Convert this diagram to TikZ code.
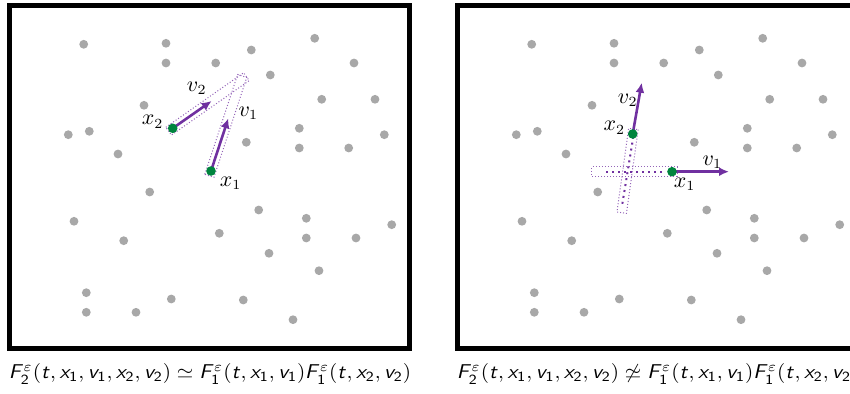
\documentclass[tikz,border=0pt]{standalone}
\usepackage{amsmath,amssymb}
\usetikzlibrary{arrows.meta,calc}
\definecolor{partgray}{RGB}{168,168,168}
\definecolor{partgreen}{RGB}{0,132,62}
\definecolor{velpurple}{RGB}{112,48,160}

\DeclareMathAlphabet{\mathsfit}{OT1}{cmss}{m}{sl}
\newcommand\sF{\mathsfit{F}}
\newcommand\sx[1]{\mathsfit{x}_{\mathsf{#1}}}
\newcommand\sv[1]{\mathsfit{v}_{\mathsf{#1}}}
\newcommand\st{\mathsfit{t}}

\tikzset{
  wall/.style={line width=2.5pt},
  bgdot/.style={fill=partgray},
  particle/.style={circle,fill=partgreen,inner sep=0pt,minimum size=4.8pt},
  vel/.style={-{Latex[length=5pt,width=4.5pt]},line width=1.3pt,velpurple},
  tube/.style={velpurple!75,densely dotted,line width=0.5pt},
  trace/.style={velpurple,dash pattern=on 1pt off 2pt,line width=1pt},
  lab/.style={font=\fontsize{10.5}{12}\selectfont,inner sep=1pt},
  captext/.style={font=\fontsize{10}{12}\selectfont,inner sep=0pt,xscale=1.06}
}

% outline of the strip swept from #2 to #3
\newcommand\sweeptube[3][]{%
  \draw[tube,#1] ($(#2)!2.4pt!90:(#3)$) -- ($(#3)!2.4pt!-90:(#2)$)
    -- ($(#3)!2.4pt!90:(#2)$) -- ($(#2)!2.4pt!-90:(#3)$) -- cycle;}

\newcommand\capfree{$\sF_{\mathsf{2}}^\varepsilon(\st,\sx1,\sv1,\sx2,\sv2)\simeq \sF_{\mathsf{1}}^\varepsilon(\st,\sx1,\sv1)\sF_{\mathsf{1}}^\varepsilon(\st,\sx2,\sv2)$}
\newcommand\capcorr{$\sF_{\mathsf{2}}^\varepsilon(\st,\sx1,\sv1,\sx2,\sv2)\not\simeq \sF_{\mathsf{1}}^\varepsilon(\st,\sx1,\sv1)\sF_{\mathsf{1}}^\varepsilon(\st,\sx2,\sv2)$}

\def\dotlist{83.7/44.3, 166/43.3, 166/63, 215.7/63, 251.3/50, 314.7/38.3,
  354/63, 270.3/75, 321.7/99.3, 375/99.3, 144/105.3, 68.3/134.7, 89.3/131.3,
  299.3/128.3, 384.3/134.7, 246.3/142.3, 299.3/148, 348.7/148, 118/154,
  149.7/192, 258.7/210, 306.3/218.3, 74/221.3, 391.7/224.7, 219.3/233.3,
  123.7/240.7, 306.3/238, 356/238, 269/253.3, 319/270.7, 86.3/292.7,
  171.3/299, 243.3/300, 86.3/312.3, 136/312.3, 293/319.7}

\begin{document}
\begin{tikzpicture}[x=0.5pt,y=-0.5pt]
  \useasboundingbox (0,0) rectangle (850,394);
  \clip (0,0) rectangle (850,394);

  % uncorrelated pair
  \draw[wall] (9,5.3) rectangle (409.5,349);
  \foreach \x/\y in \dotlist {\fill[bgdot] (\x,\y) circle (4.4);}
  \coordinate (a-p1) at (211,171);
  \coordinate (a-p2) at (172.7,128.3);
  \coordinate (a-t1) at (228.3,118.3);
  \coordinate (a-t2) at (211.7,101);
  \coordinate (a-s1) at (209.4,175.8);
  \coordinate (a-e1) at (242.2,76);
  \coordinate (a-s2) at (168.6,131.2);
  \coordinate (a-e2) at (246.4,76.7);
  \sweeptube{a-s1}{a-e1}
  \sweeptube{a-s2}{a-e2}
  \draw[vel] (a-p1) -- (a-t1);
  \draw[vel] (a-p2) -- (a-t2);
  \node[particle] (a-x1) at (a-p1) {};
  \node[particle] (a-x2) at (a-p2) {};
  \node[lab] (a-lx1) at (230.7,183.3) {$x_1$};
  \node[lab] (a-lx2) at (152.7,121.7) {$x_2$};
  \node[lab] (a-lv1) at (248.3,113.3) {$v_1$};
  \node[lab] (a-lv2) at (196.7,88) {$v_2$};
  \node[captext] (a-cap) at (210,374) {\capfree};

  % correlated pair after a collision
  \begin{scope}[xshift=224pt]
    \draw[wall] (9,5.3) rectangle (409.5,349);
    \foreach \x/\y in \dotlist {\fill[bgdot] (\x,\y) circle (4.4);}
    \coordinate (b-p1) at (224,171.7);
    \coordinate (b-p2) at (184.7,134);
    \coordinate (b-t1) at (281,171.7);
    \coordinate (b-t2) at (193.7,82.7);
    \coordinate (b-s1) at (229,171.7);
    \coordinate (b-e1) at (143.7,171.7);
    \coordinate (b-s2) at (185.4,129);
    \coordinate (b-e2) at (173.7,212.7);
    \sweeptube{b-s1}{b-e1}
    \sweeptube{b-s2}{b-e2}
    \draw[trace] (213.7,171.7) -- (156.3,171.7);
    \draw[trace] (185.3,136.7) -- (174.3,204);
    \draw[vel] (b-p1) -- (b-t1);
    \draw[vel] (b-p2) -- (b-t2);
    \node[particle] (b-x1) at (b-p1) {};
    \node[particle] (b-x2) at (b-p2) {};
    \node[lab] (b-lx1) at (236.7,184) {$x_1$};
    \node[lab] (b-lx2) at (166.3,127.7) {$x_2$};
    \node[lab] (b-lv1) at (264.3,162.3) {$v_1$};
    \node[lab] (b-lv2) at (179.7,100) {$v_2$};
    \node[captext] (b-cap) at (210,374) {\capcorr};
  \end{scope}
\end{tikzpicture}
\end{document}
